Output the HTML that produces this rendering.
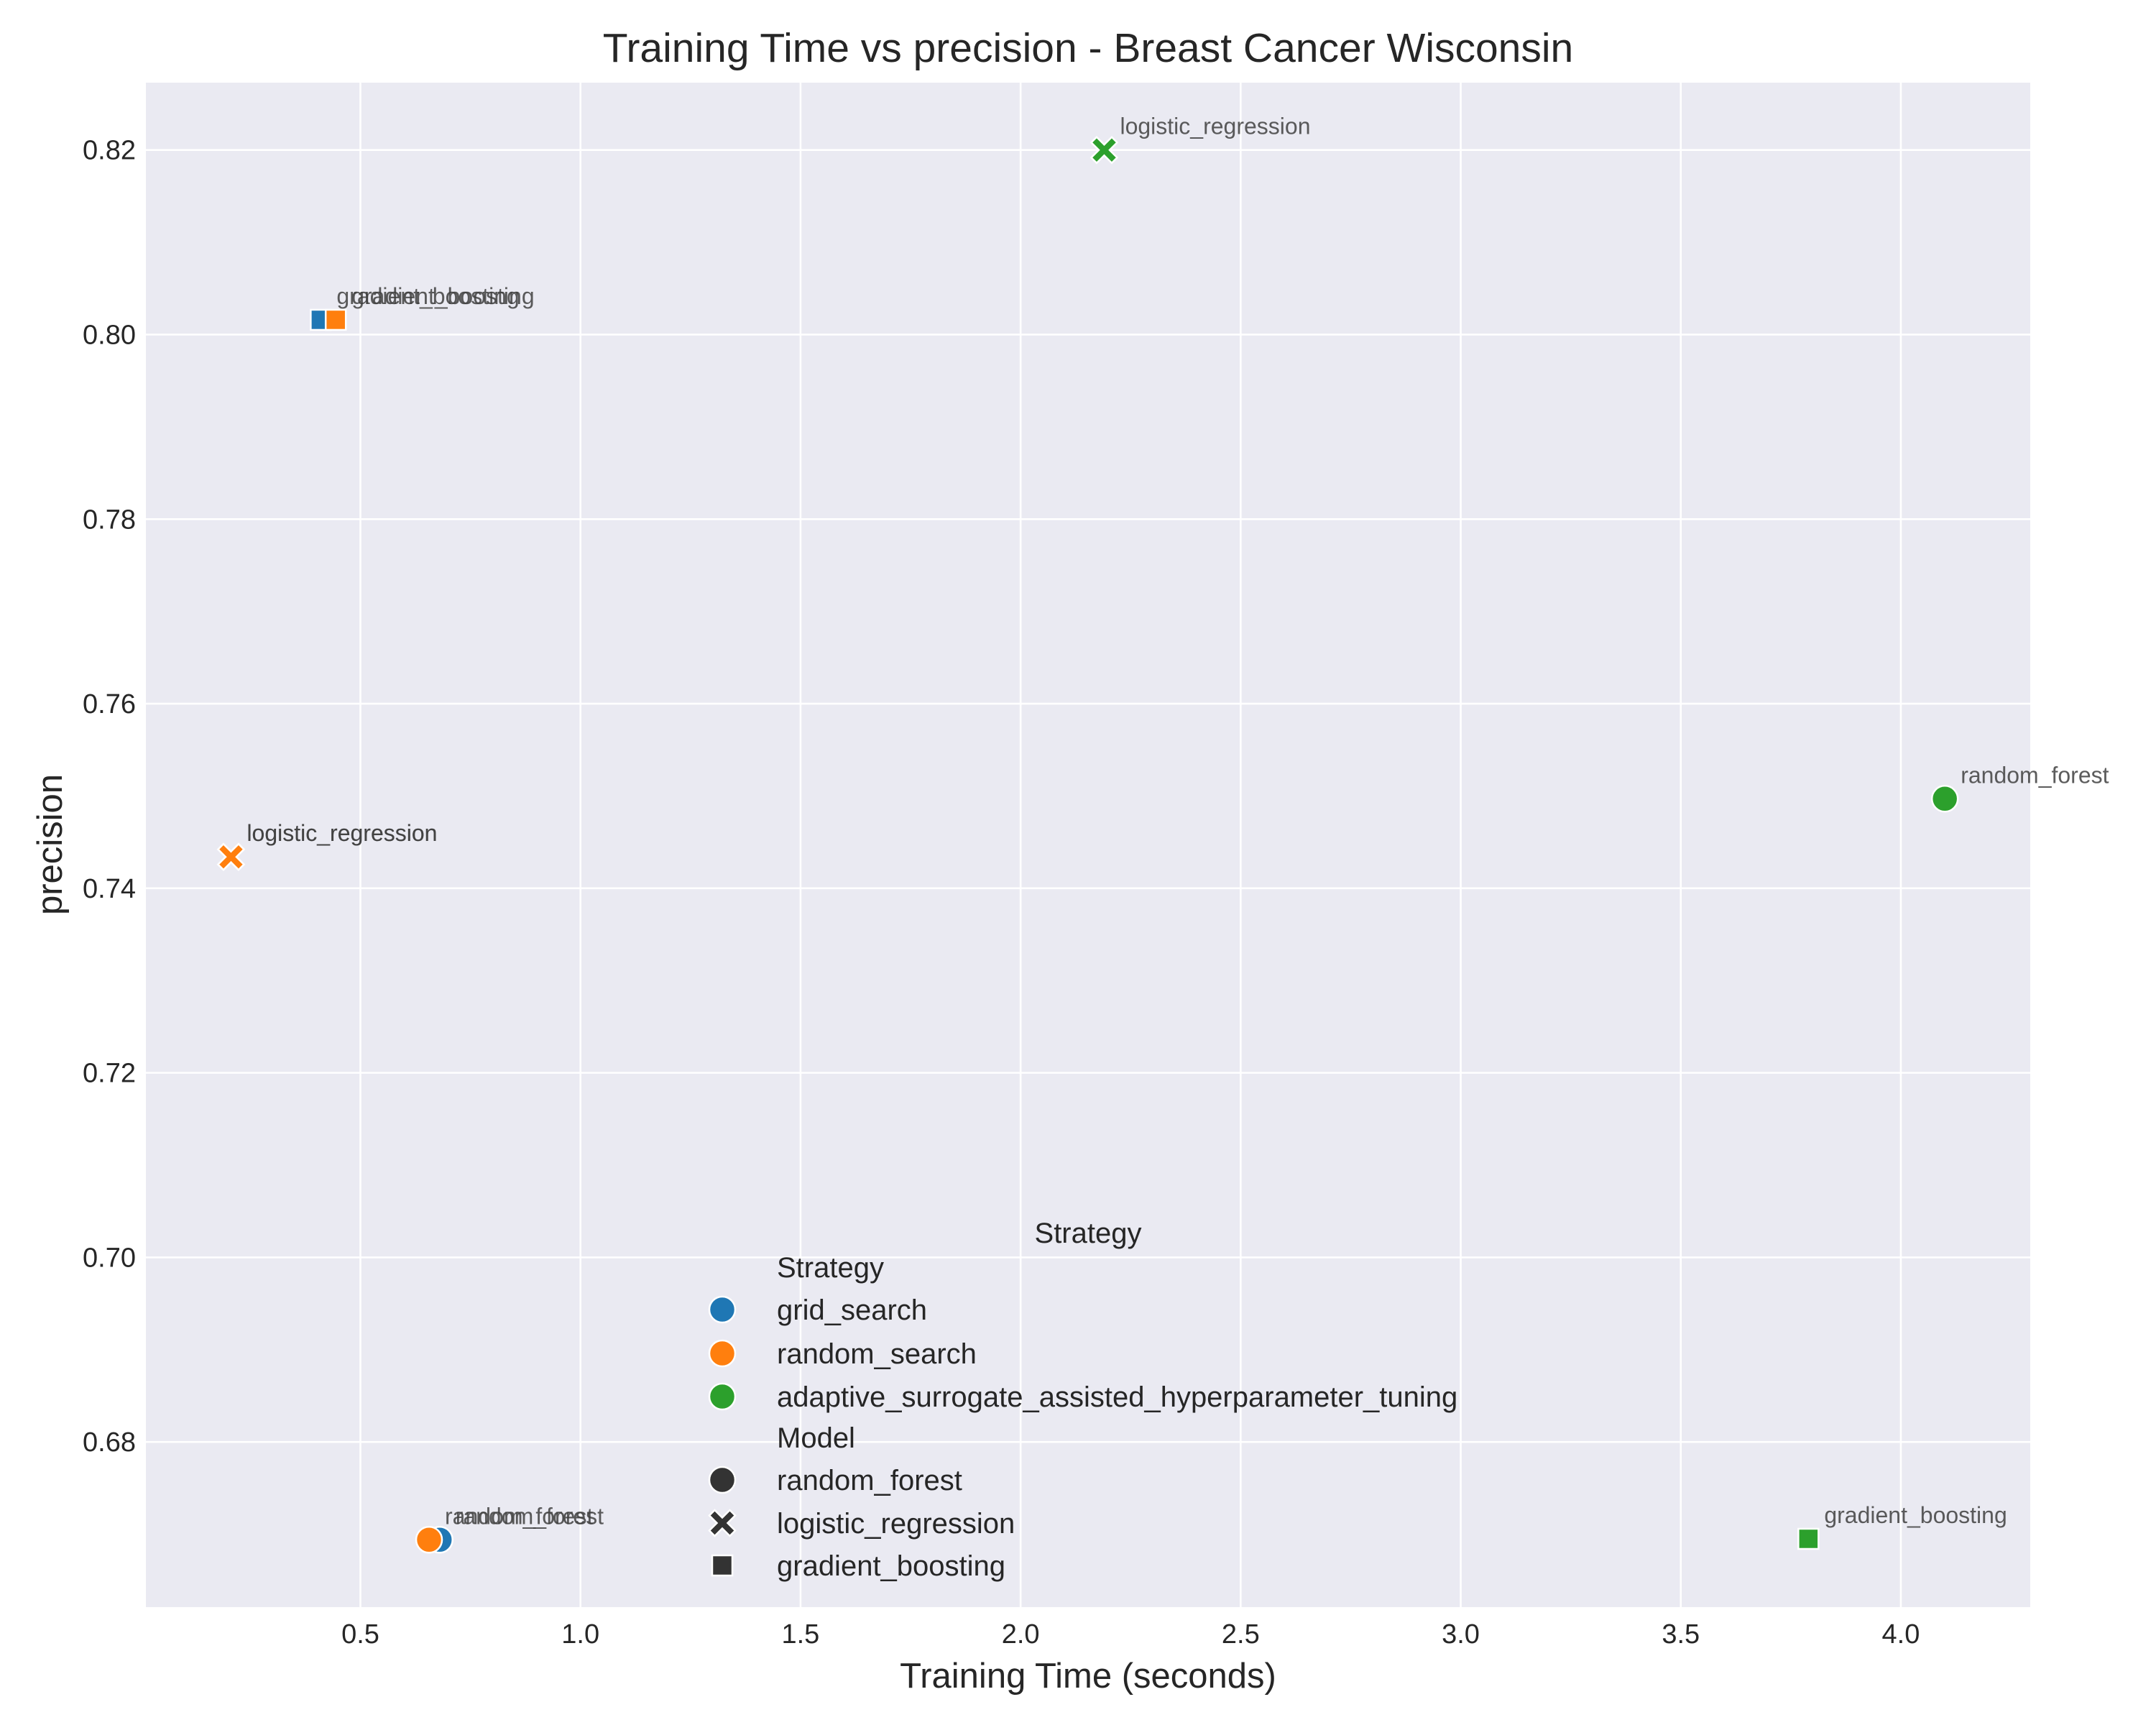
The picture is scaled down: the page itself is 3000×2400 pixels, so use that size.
<!DOCTYPE html>
<html><head><meta charset="utf-8">
<style>
html,body{margin:0;padding:0;background:#fff;}
svg{display:block;font-family:"Liberation Sans",Arial,sans-serif;}
</style></head>
<body>
<svg id="chart" width="3000" height="2400" viewBox="0 0 3000 2400" xmlns="http://www.w3.org/2000/svg">
<rect x="0" y="0" width="3000" height="2400" fill="#ffffff"/>
<rect id="plotbg" x="203" y="115" width="2622" height="2121" fill="#eaeaf2"/>
<g id="grid"></g>
<g id="ticks"></g>
<g id="marks"></g>
<g id="annots"></g>
<text x="1514" y="86" font-size="57" fill="#262626" text-anchor="middle">Training Time vs precision - Breast Cancer Wisconsin</text>
<text x="1514" y="2348" font-size="49" fill="#262626" text-anchor="middle">Training Time (seconds)</text>
<text x="86" y="1175" font-size="49" fill="#262626" text-anchor="middle" transform="rotate(-90 86 1175)">precision</text>
<g id="legend"></g>
</svg>
<script>
const categories = ["grid_search","random_search","adaptive_surrogate_assisted_hyperparameter_tuning"];
const models = ["random_forest","logistic_regression","gradient_boosting"];
const pointStrategy = [0,1,0,1,0,1,2,2,2];
const pointModel = [0,0,2,2,1,1,1,0,2];
const timeValues = [0.68,0.656,0.41,0.444,0.206,0.206,2.19,4.10,3.79];
const precisionValues = [0.6694,0.6694,0.8016,0.8016,0.7434,0.7434,0.8200,0.7497,0.6695];
const xTicks = [0.5,1.0,1.5,2.0,2.5,3.0,3.5,4.0];
const yTicks = [0.68,0.70,0.72,0.74,0.76,0.78,0.80,0.82];
const colors = ["#1f77b4","#ff7f0e","#2ca02c"];

const L=203,R=2825,T=115,B=2236;
const xMin=0.0126,xMax=4.294,yMin=0.6621,yMax=0.8273;
const xs=v=>L+(v-xMin)/(xMax-xMin)*(R-L);
const ys=v=>B-(v-yMin)/(yMax-yMin)*(B-T);
const NS="http://www.w3.org/2000/svg";
function mk(tag,attrs,parent){const e=document.createElementNS(NS,tag);for(const k in attrs)e.setAttribute(k,attrs[k]);parent.appendChild(e);return e;}

const grid=document.getElementById('grid'),ticks=document.getElementById('ticks');
xTicks.forEach(t=>{
  const l=mk('line',{x1:xs(t),x2:xs(t),y1:T,y2:B,stroke:'#ffffff','stroke-width':2.6},grid);
  
  
  const tx=mk('text',{x:xs(t),y:B+50,'font-size':38,fill:'#262626','text-anchor':'middle'},ticks);
  tx.textContent=t.toFixed(1);
  
  
});
yTicks.forEach(t=>{
  const l=mk('line',{x1:L,x2:R,y1:ys(t),y2:ys(t),stroke:'#ffffff','stroke-width':2.6},grid);
  
  
  const tx=mk('text',{x:L-14,y:ys(t)+13,'font-size':38,fill:'#262626','text-anchor':'end'},ticks);
  tx.textContent=t.toFixed(2);
  
  
});

function marker(m,cx,cy,fill,parent){
  if(m===0){return mk('circle',{cx:cx,cy:cy,r:18,fill:fill,stroke:'#fff','stroke-width':2.5},parent);}
  if(m===2){const h=14;return mk('rect',{x:cx-h,y:cy-h,width:2*h,height:2*h,fill:fill,stroke:'#fff','stroke-width':2.5},parent);}
  const a=18,w=7.5;
  const d=`M${cx-a+w},${cy-a} L${cx},${cy-w} L${cx+a-w},${cy-a} L${cx+a},${cy-a+w} L${cx+w},${cy} L${cx+a},${cy+a-w} L${cx+a-w},${cy+a} L${cx},${cy+w} L${cx-a+w},${cy+a} L${cx-a},${cy+a-w} L${cx-w},${cy} L${cx-a},${cy-a+w} Z`;
  return mk('path',{d:d,fill:fill,stroke:'#fff','stroke-width':2.5},parent);
}
const marks=document.getElementById('marks'),annots=document.getElementById('annots');
timeValues.forEach((tv,i)=>{
  const cx=xs(tv),cy=ys(precisionValues[i]);
  const e=marker(pointModel[i],cx,cy,colors[pointStrategy[i]],marks);
  
  
  const t=mk('text',{x:cx+22,y:cy-22,'font-size':32,fill:'#404040','fill-opacity':0.85},annots);
  t.textContent=models[pointModel[i]];
  
  
});

const lg=document.getElementById('legend');
function ltext(x,y,s,name,anchor){const t=mk('text',{x:x,y:y,'font-size':40,fill:'#262626','text-anchor':anchor||'start'},lg);t.textContent=s;
  
  return t;}
ltext(1514,1729,'Strategy','legend-title','middle');
const lx=1005,tx=1081;
ltext(tx,1777,'Strategy','legend-strategy-header');
const sRows=[1822,1883,1943];
categories.forEach((c,i)=>{
  const y=sRows[i];
  const m=marker(0,lx,y,colors[i],lg);
  
  
  ltext(tx,y+14,c,'legend-entry');
});
ltext(tx,2014,'Model','legend-model-header');
const mRows=[2059,2119,2178];
models.forEach((c,i)=>{
  const y=mRows[i];
  const m=marker(i,lx,y,'#333333',lg);
  
  
  ltext(tx,y+14,c,'legend-entry');
});
</script>
</body></html>
